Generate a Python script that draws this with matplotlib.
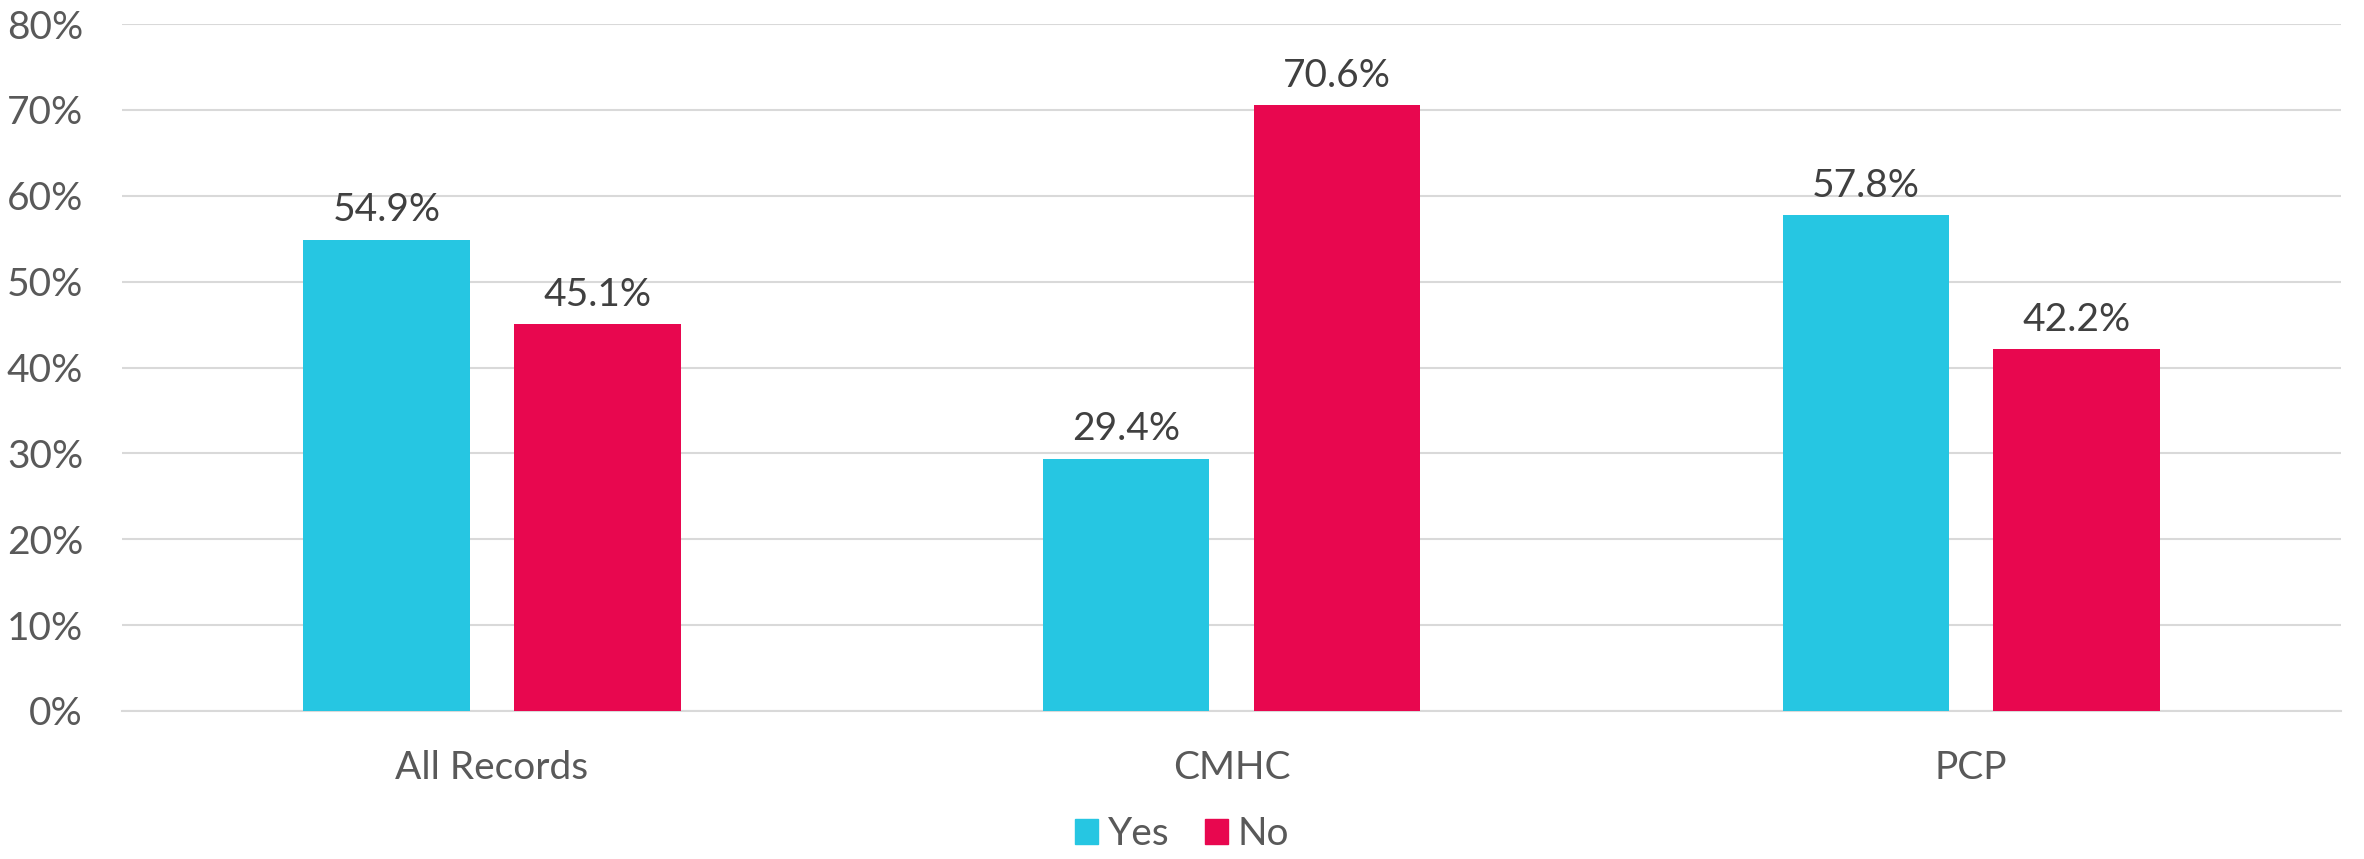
import matplotlib.pyplot as plt
import matplotlib.patches as mpatches
import numpy as np

categories = ["All Records", "CMHC", "PCP"]
yes_values = [54.9, 29.4, 57.8]
no_values = [45.1, 70.6, 42.2]
series_names = ["Yes", "No"]
y_ticks = [0, 10, 20, 30, 40, 50, 60, 70, 80]

plt.rcParams['font.family'] = ['Lato', 'DejaVu Sans']

yes_color = "#26C6E2"
no_color = "#E8074F"
text_color = "#595959"
label_color = "#404040"


def add_labels(ax, xs, values):
    for x, v in zip(xs, values):
        ax.annotate("%.1f%%" % v, (x, v), xytext=(0, 8),
                    textcoords="offset points", ha="center", va="bottom",
                    fontsize=28, color=label_color)


fig = plt.figure(figsize=(23.64, 8.59), dpi=100)
ax = fig.add_axes([0.0516, 0.1723, 0.9387, 0.7997])

x = np.arange(len(categories))
width = 0.225
offset = 0.1426

ax.bar(x - offset, yes_values, width, color=yes_color, zorder=3)
ax.bar(x + offset, no_values, width, color=no_color, zorder=3)
add_labels(ax, x - offset, yes_values)
add_labels(ax, x + offset, no_values)

# The axes
ax.set_xlim(-0.5, len(categories) - 0.5)
ax.set_ylim(0, 80)
ax.set_yticks(y_ticks)
ax.set_yticklabels([str(t) + "%" for t in y_ticks])
ax.set_xticks(x)
ax.set_xticklabels(categories)
ax.tick_params(axis="y", length=0, pad=28, labelsize=28, labelcolor=text_color)
ax.tick_params(axis="x", length=0, pad=28, labelsize=28, labelcolor=text_color)
ax.grid(axis="y", color="#D9D9D9", linewidth=1.5, zorder=0)
for side in ["top", "right", "left"]:
    ax.spines[side].set_visible(False)
ax.spines["bottom"].set_color("#D9D9D9")
ax.spines["bottom"].set_linewidth(1.5)

# The legend
patches = [mpatches.Patch(color=yes_color, label=series_names[0]),
           mpatches.Patch(color=no_color, label=series_names[1])]
leg = fig.legend(handles=patches, loc="lower center", bbox_to_anchor=(0.5, -0.033),
                 ncol=2, frameon=False, fontsize=28, handlelength=0.6,
                 handleheight=0.6, handletextpad=0.25, columnspacing=0.9)
for t in leg.get_texts():
    t.set_color(text_color)

fig.savefig("out.png", dpi=100)
plt.close(fig)
